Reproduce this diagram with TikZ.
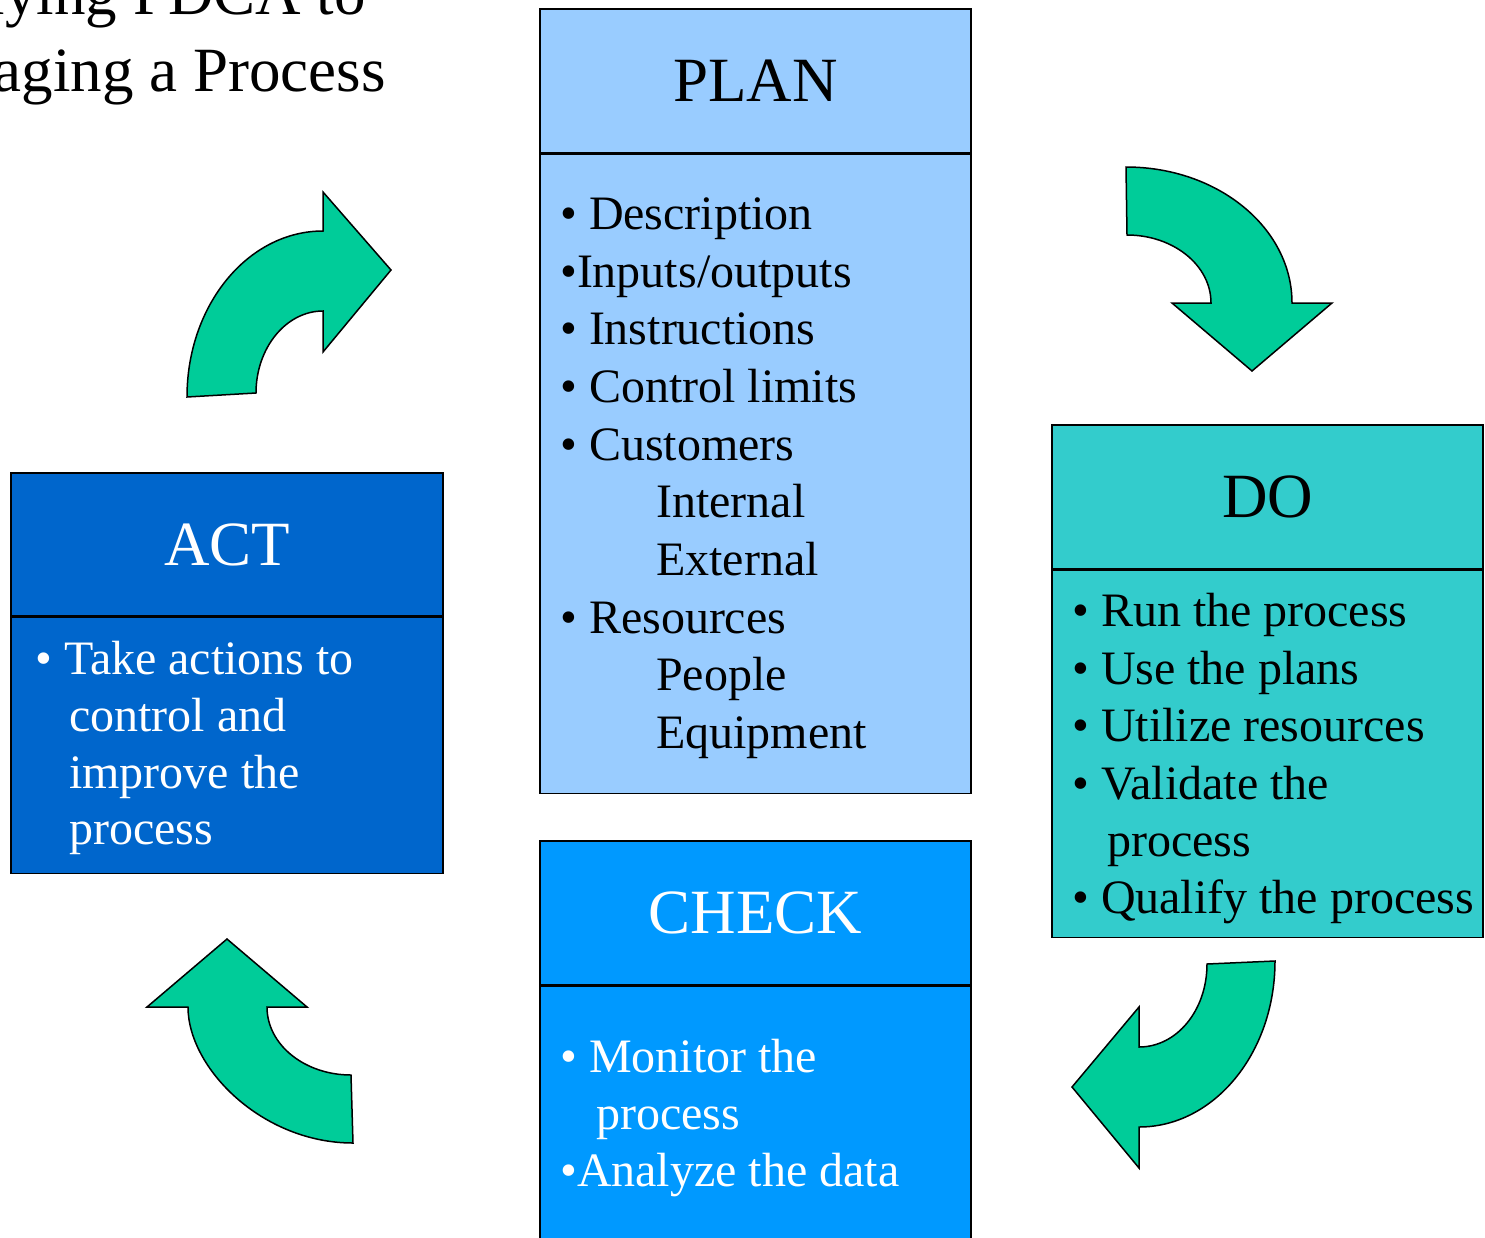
\documentclass[tikz,border=0pt]{standalone}
\usepackage{fontspec}
\setmainfont{Liberation Serif}
\usepackage{xcolor}
\definecolor{planfill}{HTML}{99CCFF}
\definecolor{dofill}{HTML}{33CCCC}
\definecolor{checkfill}{HTML}{0099FF}
\definecolor{actfill}{HTML}{0066CC}
\definecolor{turngreen}{HTML}{00CC99}
\usepackage{tikz}
\usetikzlibrary{positioning}
\newcommand{\headfont}{\fontsize{63}{77}\selectfont}
\newcommand{\itemfont}{\fontsize{48}{57.5}\selectfont}
\tikzset{
    phasehead/.style = {draw=black, line width=1.5pt, minimum width=431pt,
                        minimum height=144pt, inner sep=0pt, font=\headfont},
    phasebody/.style = {draw=black, line width=1.5pt, minimum width=431pt,
                        inner sep=0pt, anchor=north},
    phaseitem/.style = {anchor=base west, inner sep=0pt, font=\itemfont},
    turnarrow/.style = {draw=black, line width=1.5pt, fill=turngreen},
}

\begin{document}
\begin{tikzpicture}[x=1pt, y=-1pt]
        \useasboundingbox (0,0) rectangle (1485,1237);
        \clip (0,0) rectangle (1485,1237);
        % title
        \node[anchor=base east, inner sep=0pt, font=\headfont] (title1) at (366,14) {Applying PDCA to};
        \node[anchor=base east, inner sep=0pt, font=\headfont] (title2) at (386,91) {Managing a Process};
        % plan
        \node[phasehead, fill=planfill] (plan) at (755.5,81) {PLAN};
        \node[phasebody, fill=planfill, minimum height=639pt] (planbody) at (plan.south) {};
        \foreach \txt/\x/\y [count=\i] in {{• Description}/560/229, {•Inputs/outputs}/560/287,
            {• Instructions}/560/344, {• Control limits}/560/402, {• Customers}/560/460,
            {Internal}/656/517, {External}/656/575, {• Resources}/560/633,
            {People}/656/690, {Equipment}/656/748}
          \node[phaseitem] (plan\i) at (\x,\y) {\txt};
        % do
        \node[phasehead, fill=dofill] (do) at (1267.5,497) {DO};
        \node[phasebody, fill=dofill, minimum height=367pt] (dobody) at (do.south) {};
        \foreach \txt/\x/\y [count=\i] in {{• Run the process}/1072/626, {• Use the plans}/1072/684,
            {• Utilize resources}/1072/741, {• Validate the}/1072/799,
            {process}/1107/856, {• Qualify the process}/1072/913}
          \node[phaseitem] (do\i) at (\x,\y) {\txt};
        % check
        \node[phasehead, fill=checkfill, text=white] (check) at (755.5,913) {CHECK};
        \node[phasebody, fill=checkfill, minimum height=320pt] (checkbody) at (check.south) {};
        \foreach \txt/\x/\y [count=\i] in {{• Monitor the}/560/1072, {process}/596/1129,
            {•Analyze the data}/560/1186}
          \node[phaseitem, text=white] (check\i) at (\x,\y) {\txt};
        % act
        \node[phasehead, fill=actfill, text=white, minimum width=432pt, minimum height=143pt] (act) at (227,544.5) {ACT};
        \node[phasebody, fill=actfill, minimum width=432pt, minimum height=256pt] (actbody) at (act.south) {};
        \foreach \txt/\x/\y [count=\i] in {{• Take actions to}/35/674, {control and}/69/731,
            {improve the}/69/788, {process}/69/844}
          \node[phaseitem, text=white] (act\i) at (\x,\y) {\txt};
        % curved arrows between the phases
        \draw[turnarrow] (187,397) .. controls (187,305) and (248,231) .. (323,231) -- (323,192)
          -- (391,270) -- (323,352) -- (323,311) .. controls (286,311) and (256,348) .. (256,393) -- cycle;
        \draw[turnarrow] (1126,167) .. controls (1218,167) and (1292,228) .. (1292,303) -- (1332,303)
          -- (1252,371) -- (1172,303) -- (1211,303) .. controls (1211,265) and (1173,235) .. (1127,235) -- cycle;
        \draw[turnarrow] (1207,964) .. controls (1207,1010) and (1177,1047) .. (1139,1047) -- (1139,1007)
          -- (1072,1087) -- (1139,1168) -- (1139,1127) .. controls (1214,1127) and (1275,1053) .. (1275,961) -- cycle;
        \draw[turnarrow] (227,939) -- (307,1007) -- (267,1007) .. controls (267,1045) and (305,1075) .. (351,1075)
          -- (353,1143) .. controls (262,1143) and (188,1068) .. (188,1007) -- (147,1007) -- cycle;
      \end{tikzpicture}
\end{document}
